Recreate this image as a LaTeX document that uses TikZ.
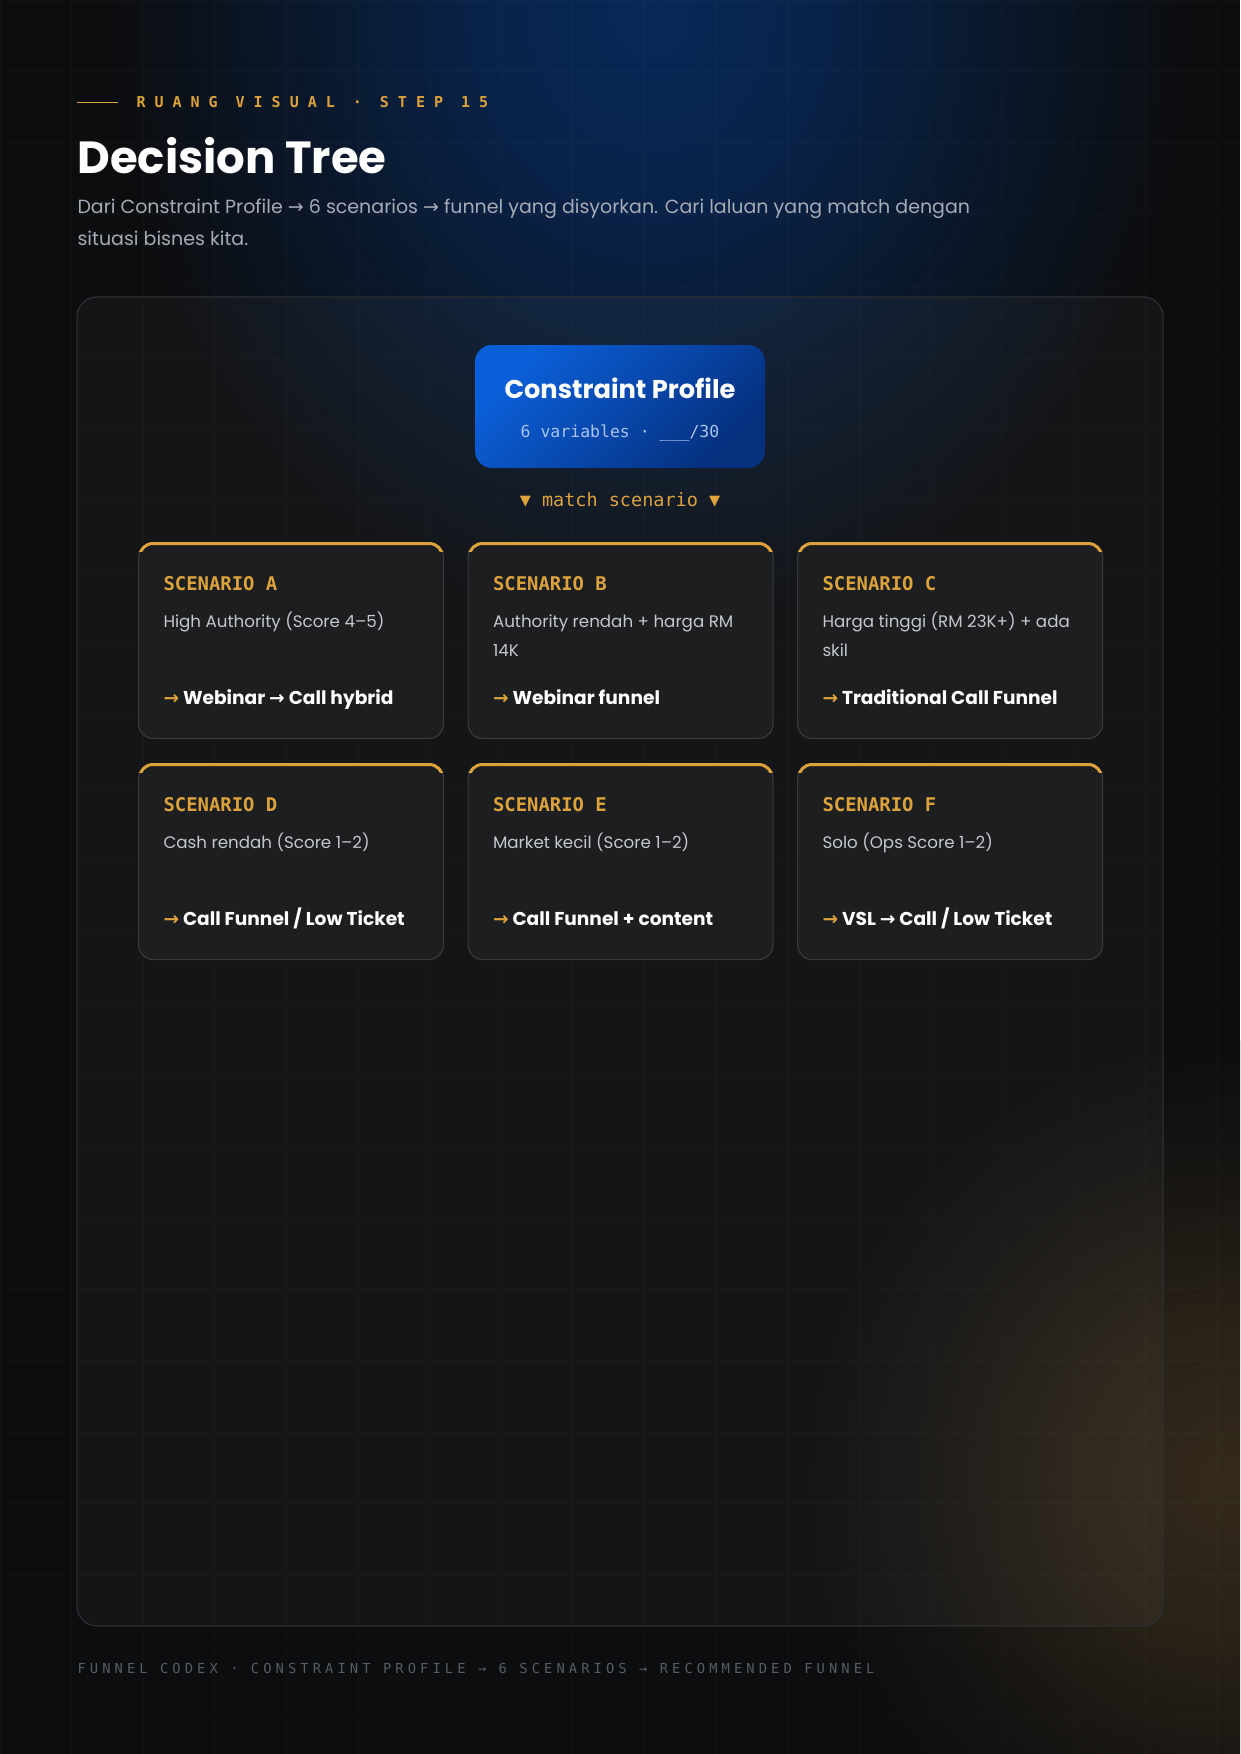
\documentclass[tikz,border=0pt]{standalone}
\usepackage{fontspec}
\setmainfont{Poppins}
\newfontfamily\monofont{DejaVu Sans Mono}
\newfontfamily\symfont{DejaVu Sans}
\usetikzlibrary{calc}

\definecolor{bgdark}{HTML}{0C0D0F}
\definecolor{glowblue}{HTML}{082858}
\definecolor{glowwarm}{HTML}{342A1B}
\definecolor{goldtxt}{HTML}{DCA33C}
\definecolor{panelline}{HTML}{2E2F32}
\definecolor{cardfill}{HTML}{1D1E1F}
\definecolor{cardline}{HTML}{38393B}
\definecolor{subgray}{HTML}{A5ACB8}
\definecolor{descgray}{HTML}{C4C7CC}
\definecolor{footgray}{HTML}{565C65}
\definecolor{profhi}{HTML}{0B60DA}
\definecolor{proflo}{HTML}{05307E}
\definecolor{profsub}{HTML}{A9C4EF}
\colorlet{blueA}{glowblue!78!bgdark}
\colorlet{blueB}{glowblue!40!bgdark}
\colorlet{warmA}{glowwarm!70!bgdark}
\colorlet{warmB}{glowwarm!30!bgdark}

% the path's box is mapped to radius 25bp
\pgfdeclareradialshading{blueglow}{\pgfpoint{0bp}{0bp}}{color(0bp)=(glowblue); color(8bp)=(blueA); color(16bp)=(blueB); color(25bp)=(bgdark); color(50bp)=(bgdark)}
\pgfdeclareradialshading{warmglow}{\pgfpoint{0bp}{0bp}}{color(0bp)=(glowwarm); color(9bp)=(warmA); color(17bp)=(warmB); color(25bp)=(bgdark); color(50bp)=(bgdark)}

\newcommand{\arr}{{\symfont\bfseries →}}

\tikzset{every picture/.style={line width=1pt},
  card/.style={draw=cardline, line width=1.2, fill=cardfill, rounded corners=15, minimum width=305, minimum height=196, inner sep=0pt},
  cardgold/.style={draw=goldtxt, line width=3, rounded corners=13.5},
  scntitle/.style={anchor=base west, inner sep=0pt, text=goldtxt, font=\monofont\bfseries\fontsize{18.9}{22}\selectfont},
  scndesc/.style={anchor=base west, inner sep=0pt, text=descgray, font=\fontsize{16.7}{21}\selectfont},
  scnresult/.style={anchor=base west, inner sep=0pt, text=white, font=\bfseries\fontsize{18.6}{22}\selectfont},
}

\begin{document}
\begin{tikzpicture}[x=1pt,y=1pt,yscale=-1,xscale=1]
	\useasboundingbox (0,0) rectangle (1240,1754);
	%Background
	\begin{scope}
	\clip (0,0) rectangle (1240,1754);
	\fill [bgdark] (0,0) rectangle (1240,1754);
	\shade [shading=blueglow] (650,10) ellipse [x radius=540, y radius=620];
	\shade [shading=warmglow] (1225,1480) ellipse [x radius=420, y radius=440];
	\draw [white, opacity=0.025, line width=1, step=71.6pt] (0,0) grid (1240,1754);
	\end{scope}
	
	%Header rule
	\coordinate (ruleL) at (77,102);
	\draw [goldtxt, line width=1]  (ruleL) -- ++(41,0) coordinate (ruleR);
	% Text Node
	\draw (136,107) node (kicker) [anchor=base west][inner sep=0pt]  {\monofont\bfseries\fontsize{15}{18}\selectfont\addfontfeature{LetterSpace=60}\color{goldtxt}RUANG VISUAL · STEP 15};
	% Text Node
	\draw (77,173) node (title) [anchor=base west][inner sep=0pt]  {\bfseries\fontsize{45}{50}\selectfont\color{white}Decision Tree};
	% Text Node
	\draw (77,213) node (sub1) [anchor=base west][inner sep=0pt]  {\fontsize{19}{22}\selectfont\color{subgray}Dari Constraint Profile {\symfont →} 6 scenarios {\symfont →} funnel yang disyorkan. Cari laluan yang match dengan};
	% Text Node
	\draw (77,245) node (sub2) [anchor=base west][inner sep=0pt]  {\fontsize{19}{22}\selectfont\color{subgray}situasi bisnes kita.};
	
	%Panel
	\draw [panelline, line width=1.2, fill=white, fill opacity=0.035, rounded corners=20]  (77,297) rectangle (1163,1626);
	
	%Constraint profile box
	\draw (620,406.5) node (profile) [rounded corners=17, minimum width=290, minimum height=123, inner sep=0pt, top color=profhi, bottom color=proflo, shading angle=45, draw=none] {};
	% Text Node
	\draw (620,398) node (profTitle) [anchor=base][inner sep=0pt]  {\bfseries\fontsize{25.7}{30}\selectfont\color{white}Constraint Profile};
	% Text Node
	\draw (620,437) node (profSub) [anchor=base][inner sep=0pt]  {\monofont\fontsize{16.5}{20}\selectfont\color{profsub}6 variables · \_\_\_/30};
	% Text Node
	\draw (620,506) node (match) [anchor=base][inner sep=0pt]  {\monofont\fontsize{18.5}{22}\selectfont\color{goldtxt}▼ match scenario ▼};
	
	%Scenario A
	\draw (138,542) node (cardA) [card, anchor=north west] {};
	\begin{scope}
	\clip ($(cardA.north west)+(-2,-2)$) rectangle ($(cardA.north east)+(2,9)$);
	\draw [cardgold]  ($(cardA.north west)+(1.5,1.5)$) rectangle ($(cardA.south east)+(-1.5,-1.5)$);
	\end{scope}
	\draw ($(cardA.north west)+(25,48)$) node (scnA) [scntitle] {SCENARIO A};
	\draw ($(cardA.north west)+(25,85)$) node (descA) [scndesc] {High Authority (Score 4–5)};
	\draw ($(cardA.north west)+(25,162)$) node (resA) [scnresult] {{\color{goldtxt}\arr} Webinar \arr{} Call hybrid};
	
	%Scenario B
	\draw (467.5,542) node (cardB) [card, anchor=north west] {};
	\begin{scope}
	\clip ($(cardB.north west)+(-2,-2)$) rectangle ($(cardB.north east)+(2,9)$);
	\draw [cardgold]  ($(cardB.north west)+(1.5,1.5)$) rectangle ($(cardB.south east)+(-1.5,-1.5)$);
	\end{scope}
	\draw ($(cardB.north west)+(25,48)$) node (scnB) [scntitle] {SCENARIO B};
	\draw ($(cardB.north west)+(25,85)$) node (descB) [scndesc] {Authority rendah + harga RM};
	\draw ($(cardB.north west)+(25,114)$) node (descBb) [scndesc] {14K};
	\draw ($(cardB.north west)+(25,162)$) node (resB) [scnresult] {{\color{goldtxt}\arr} Webinar funnel};
	
	%Scenario C
	\draw (797,542) node (cardC) [card, anchor=north west] {};
	\begin{scope}
	\clip ($(cardC.north west)+(-2,-2)$) rectangle ($(cardC.north east)+(2,9)$);
	\draw [cardgold]  ($(cardC.north west)+(1.5,1.5)$) rectangle ($(cardC.south east)+(-1.5,-1.5)$);
	\end{scope}
	\draw ($(cardC.north west)+(25,48)$) node (scnC) [scntitle] {SCENARIO C};
	\draw ($(cardC.north west)+(25,85)$) node (descC) [scndesc] {Harga tinggi (RM 23K+) + ada};
	\draw ($(cardC.north west)+(25,114)$) node (descCb) [scndesc] {skil};
	\draw ($(cardC.north west)+(25,162)$) node (resC) [scnresult] {{\color{goldtxt}\arr} Traditional Call Funnel};
	
	%Scenario D
	\draw (138,763) node (cardD) [card, anchor=north west] {};
	\begin{scope}
	\clip ($(cardD.north west)+(-2,-2)$) rectangle ($(cardD.north east)+(2,9)$);
	\draw [cardgold]  ($(cardD.north west)+(1.5,1.5)$) rectangle ($(cardD.south east)+(-1.5,-1.5)$);
	\end{scope}
	\draw ($(cardD.north west)+(25,48)$) node (scnD) [scntitle] {SCENARIO D};
	\draw ($(cardD.north west)+(25,85)$) node (descD) [scndesc] {Cash rendah (Score 1–2)};
	\draw ($(cardD.north west)+(25,162)$) node (resD) [scnresult] {{\color{goldtxt}\arr} Call Funnel / Low Ticket};
	
	%Scenario E
	\draw (467.5,763) node (cardE) [card, anchor=north west] {};
	\begin{scope}
	\clip ($(cardE.north west)+(-2,-2)$) rectangle ($(cardE.north east)+(2,9)$);
	\draw [cardgold]  ($(cardE.north west)+(1.5,1.5)$) rectangle ($(cardE.south east)+(-1.5,-1.5)$);
	\end{scope}
	\draw ($(cardE.north west)+(25,48)$) node (scnE) [scntitle] {SCENARIO E};
	\draw ($(cardE.north west)+(25,85)$) node (descE) [scndesc] {Market kecil (Score 1–2)};
	\draw ($(cardE.north west)+(25,162)$) node (resE) [scnresult] {{\color{goldtxt}\arr} Call Funnel + content};
	
	%Scenario F
	\draw (797,763) node (cardF) [card, anchor=north west] {};
	\begin{scope}
	\clip ($(cardF.north west)+(-2,-2)$) rectangle ($(cardF.north east)+(2,9)$);
	\draw [cardgold]  ($(cardF.north west)+(1.5,1.5)$) rectangle ($(cardF.south east)+(-1.5,-1.5)$);
	\end{scope}
	\draw ($(cardF.north west)+(25,48)$) node (scnF) [scntitle] {SCENARIO F};
	\draw ($(cardF.north west)+(25,85)$) node (descF) [scndesc] {Solo (Ops Score 1–2)};
	\draw ($(cardF.north west)+(25,162)$) node (resF) [scnresult] {{\color{goldtxt}\arr} VSL \arr{} Call / Low Ticket};
	
	% Text Node
	\draw (77,1673) node (footer) [anchor=base west][inner sep=0pt]  {\monofont\fontsize{13.8}{17}\selectfont\addfontfeature{LetterSpace=29.5}\color{footgray}FUNNEL CODEX · CONSTRAINT PROFILE → 6 SCENARIOS → RECOMMENDED FUNNEL};
	
\end{tikzpicture}
\end{document}
